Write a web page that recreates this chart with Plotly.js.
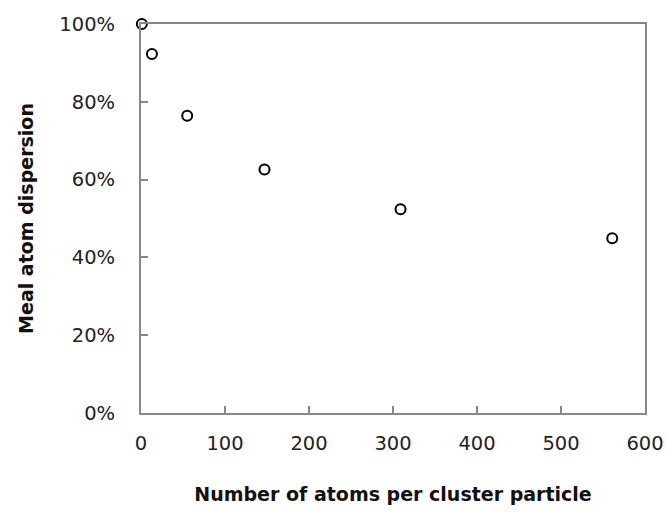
<!DOCTYPE html>
<html>
<head>
<meta charset="utf-8">
<script src="https://cdn.plot.ly/plotly-3.0.1.min.js"></script>
<style>html,body{margin:0;padding:0;background:#fff;}#chart{width:667px;height:521px;}</style>
</head>
<body>
<div id="chart"></div>
<script>
const atoms = [1, 13, 55, 147, 309, 561];
const dispersion = [1.0, 0.923, 0.764, 0.626, 0.524, 0.449];
const xTitle = 'Number of atoms per cluster particle';
const yTitle = 'Meal atom dispersion';

const trace = {
  x: atoms,
  y: dispersion,
  type: 'scatter',
  mode: 'markers',
  cliponaxis: false,
  marker: {symbol: 'circle-open', size: 10, color: '#000', line: {width: 2, color: '#1a1a1a'}},
  hoverinfo: 'x+y'
};

const axisCommon = {
  showgrid: false,
  zeroline: false,
  showline: true,
  mirror: true,
  linecolor: '#888888',
  linewidth: 2,
  ticks: 'inside',
  ticklen: 7,
  tickwidth: 2,
  tickcolor: '#888888',
  tickfont: {family: 'DejaVu Sans, sans-serif', size: 19.5, color: '#222'}
};

const layout = {
  width: 667,
  height: 521,
  paper_bgcolor: '#fff',
  plot_bgcolor: '#fff',
  margin: {l: 141, r: 22, t: 24, b: 108},
  showlegend: false,
  xaxis: Object.assign({}, axisCommon, {
    range: [0, 600],
    dtick: 100,
    tick0: 0,
    ticklabelstandoff: 12,
    title: {text: xTitle, standoff: 33, font: {family: 'DejaVu Sans, sans-serif', size: 19, color: '#111', weight: 'bold'}}
  }),
  yaxis: Object.assign({}, axisCommon, {
    range: [0, 1],
    dtick: 0.2,
    tick0: 0,
    tickformat: '.0%',
    ticklabelstandoff: 20,
    title: {text: yTitle, standoff: 21, font: {family: 'DejaVu Sans, sans-serif', size: 19, color: '#111', weight: 'bold'}}
  })
};

Plotly.newPlot('chart', [trace], layout, {displayModeBar: false, staticPlot: true});
</script>
</body>
</html>
